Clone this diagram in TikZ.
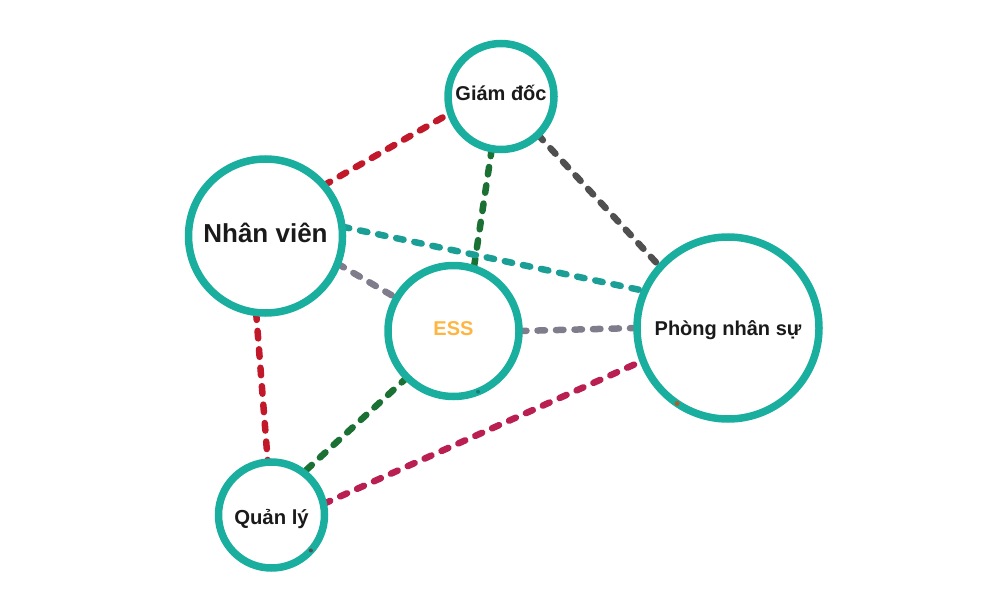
\documentclass[tikz,border=0pt]{standalone}
\usepackage{fontspec}
\setmainfont{Liberation Sans}
\usetikzlibrary{backgrounds}
\definecolor{ring}{HTML}{1AAE9F}
\definecolor{cred}{HTML}{C2192A}
\definecolor{cgreen}{HTML}{1B7133}
\definecolor{cdark}{HTML}{505050}
\definecolor{cteal}{HTML}{1A9E96}
\definecolor{cgray}{HTML}{7F7C8B}
\definecolor{ccrim}{HTML}{BA1F52}
\definecolor{ctext}{HTML}{1A1A1A}
\definecolor{corange}{HTML}{FFB541}
\definecolor{cbrown}{HTML}{A0622F}
\newcommand{\basetext}[2]{\smash{\raisebox{-#1}{#2}}}
\tikzset{
  role/.style={circle, draw=ring, line width=7.5pt, fill=white, inner sep=0pt, outer sep=0pt,
    text=ctext, font=\bfseries},
  link/.style={line width=6.5pt, line cap=round, dash pattern=on 7.5pt off 11pt},
  speck/.style={inner sep=0pt, minimum size=5pt, circle}
}
\begin{document}
\begin{tikzpicture}[x=1pt,y=-1pt]
\useasboundingbox (0,0) rectangle (1000,604);
\node[role, minimum size=154pt, font=\bfseries\fontsize{26}{30}\selectfont] (nv) at (265.5,236) {\basetext{6pt}{Nhân viên}};
\node[role, minimum size=106pt, font=\bfseries\fontsize{20}{24}\selectfont] (gd) at (501,96.5) {\basetext{4.5pt}{Giám đốc}};
\node[role, minimum size=131pt, text=corange, font=\bfseries\fontsize{20}{24}\selectfont] (ess) at (453.5,331) {\basetext{4pt}{ESS}};
\node[role, minimum size=182pt, font=\bfseries\fontsize{20}{24}\selectfont] (ph) at (728,328) {\basetext{7pt}{Phòng nhân sự}};
\node[role, minimum size=106pt, font=\bfseries\fontsize{20.3}{24}\selectfont] (ql) at (271.5,515) {\basetext{9pt}{Quản lý}};
\begin{scope}[on background layer]
\draw[link, cred] (nv.41.7) -- (gd.198.6);
\draw[link, cgreen] (gd.260) -- (ess.72);
\draw[link, cdark] (gd.314.6) -- (ph.138.6);
\draw[link, cteal] (nv.7.9) -- (ph.156);
\draw[link, cgray] (nv.-21.3) -- (ess.150.5);
\draw[link, cgray] (ess.-0.5) -- (ph.180);
\draw[link, cred] (nv.263.6) -- (ql.94.6);
\draw[link, cgreen] (ess.225.4) -- (ql.53);
\draw[link, ccrim] (ql.12) -- (ph.201.9);
\end{scope}
\node[speck, fill=cbrown] (s1) at (ph.-124) {};
\node[speck, fill=cdark, minimum size=4pt] (s2) at (ql.-42) {};
\node[speck, fill=cteal!80!black, minimum size=4pt] (s3) at (ess.-68) {};
\end{tikzpicture}
\end{document}
